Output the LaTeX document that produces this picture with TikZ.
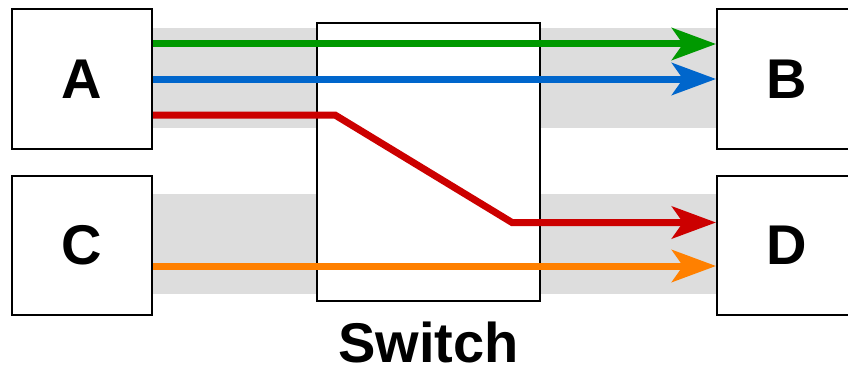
\documentclass[tikz,border=0pt]{standalone}
\usepackage{fontspec}
\setmainfont{Liberation Sans}
\usetikzlibrary{arrows.meta}
\definecolor{cgreen}{HTML}{009900}
\definecolor{cblue}{HTML}{0066CC}
\definecolor{cred}{HTML}{CC0000}
\definecolor{corange}{HTML}{FF8000}
\definecolor{cgray}{HTML}{DDDDDD}
\tikzset{
  hostbox/.style={draw=black, line width=2pt, fill=white, minimum width=140pt, minimum height=140pt, inner sep=0pt, font=\fontsize{56}{60}\selectfont\bfseries},
  flow/.style={line width=7pt, -{Stealth[length=44pt, width=32pt, inset=11pt]}},
  band/.style={fill=cgray, draw=none},
}
\begin{document}
\begin{tikzpicture}[x=1pt, y=-1pt]
\useasboundingbox (0,0) rectangle (848,369);
\fill[white] (0,0) rectangle (848,369);
% gray bands
\path[band] (152,28) rectangle (717,128);
\path[band] (152,194) rectangle (717,294);
% switch
\node[draw=black, line width=2pt, fill=white, minimum width=223pt, minimum height=278pt, inner sep=0pt] (S) at (428.5,162) {};
\node[anchor=base, font=\fontsize{56}{60}\selectfont\bfseries, inner sep=0pt] (SL) at (428.5,362) {Switch};
% hosts
\node[hostbox] (A) at (82,79) {A};
\node[hostbox, minimum height=139pt] (C) at (82,245.5) {C};
\node[hostbox] (B) at (787,79) {B};
\node[hostbox, minimum height=139pt] (D) at (787,245.5) {D};
% flows
\draw[flow, cgreen] (A.east |- 0,44) -- (B.west |- 0,44);
\draw[flow, cblue] (A.east |- 0,79) -- (B.west |- 0,79);
\draw[flow, cred] (A.east |- 0,115) -- (335,115) -- (512,222.5) -- (D.west |- 0,222.5);
\draw[flow, corange] (C.east |- 0,266) -- (D.west |- 0,266);
\end{tikzpicture}
\end{document}
